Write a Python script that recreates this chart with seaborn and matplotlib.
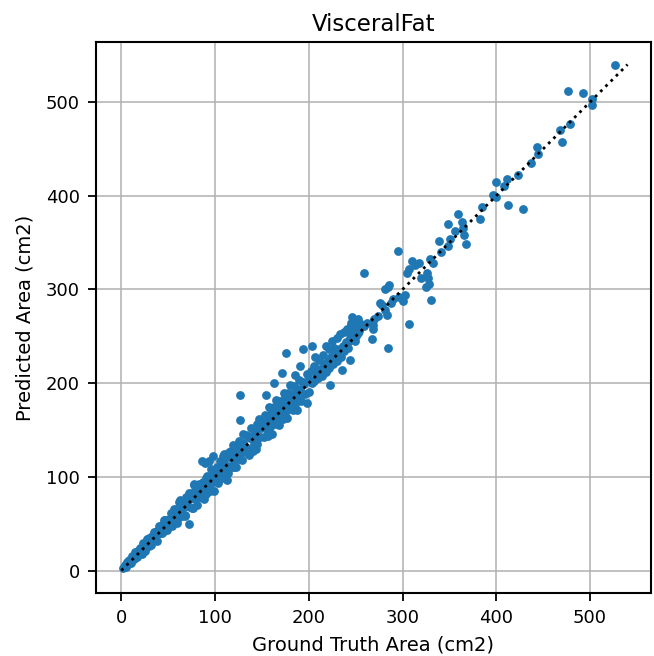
import matplotlib
matplotlib.use("Agg")
import matplotlib.pyplot as plt
import seaborn as sns
import pandas as pd

# Ground truth vs predicted visceral fat area (cm2)
ground_truth = [
    # 0-50
    2, 4, 5, 6, 7, 8, 9, 10, 11, 12, 13, 14, 15, 16, 17, 18, 19, 20, 21, 22,
    22, 23, 24, 25, 26, 27, 28, 29, 30, 31, 32, 33, 34, 35, 36, 37, 38, 39, 40, 41,
    42, 43, 44, 45, 46, 47, 48, 49, 50, 35, 28, 42, 18, 12, 8, 25, 45, 38,
    # 50-100
    51, 52, 53, 54, 55, 56, 57, 58, 59, 60, 61, 62, 63, 64, 65, 66, 67, 68, 69, 70,
    71, 72, 72, 73, 74, 75, 76, 77, 78, 79, 80, 81, 82, 83, 84, 85, 86, 86, 87, 88,
    89, 89, 90, 91, 92, 93, 93, 94, 95, 96, 97, 98, 98, 99, 100,
    55, 60, 65, 70, 75, 80, 85, 90, 95, 62, 68, 78, 88,
    # 100-150
    101, 102, 103, 104, 105, 106, 107, 108, 109, 110, 111, 112, 113, 114, 115, 116,
    117, 118, 119, 120, 121, 122, 123, 124, 125, 126, 127, 127, 128, 129, 130, 131,
    132, 133, 134, 135, 136, 137, 138, 139, 140, 141, 142, 143, 144, 145, 146, 147,
    148, 149, 150, 127, 105, 115, 125, 135, 145, 110, 120, 130, 140,
    # 150-205
    151, 152, 153, 154, 154, 155, 156, 157, 158, 159, 160, 161, 162, 163, 163, 164,
    165, 166, 167, 168, 169, 170, 171, 171, 172, 173, 174, 175, 176, 176, 177, 178,
    179, 180, 181, 182, 183, 184, 185, 185, 186, 187, 188, 189, 190, 191, 191, 192,
    194, 194, 196, 198, 198, 200, 200, 202, 203, 203,
    155, 165, 175, 185, 195, 160, 170, 180,
    # 205-255
    205, 206, 207, 208, 210, 211, 212, 214, 215, 216, 218, 218, 220, 221, 222, 223,
    224, 225, 226, 227, 228, 230, 230, 232, 233, 234, 235, 236, 237, 238, 240, 241,
    242, 244, 244, 245, 246, 246, 248, 249, 250, 250, 252, 253, 254,
    # 255-310
    256, 259, 245, 249, 252, 245, 243, 259, 262, 267, 268, 269, 270, 274, 276, 278,
    281, 283, 284, 281, 286, 285, 288, 290, 296, 295, 300, 303, 307,
    # 305-370
    305, 307, 310, 313, 318, 320, 325, 326, 327, 328, 329, 330, 333, 339, 341, 348,
    348, 351, 356, 359, 363, 364, 366, 368,
    # 380-530
    383, 385, 396, 400, 400, 408, 411, 413, 423, 429, 437, 443, 445, 468, 470, 476,
    479, 492, 502, 502, 527,
]
predicted = [
    # 0-50
    3, 6, 4, 9, 7, 10, 10, 8, 15, 13, 12, 16, 20, 16, 14, 21, 20, 24, 19, 24,
    18, 29, 25, 23, 29, 34, 28, 26, 35, 33, 27, 37, 35, 41, 34, 40, 32, 41, 48, 40,
    46, 40, 50, 46, 42, 54, 50, 43, 53, 36, 33, 40, 21, 14, 11, 21, 54, 42,
    # 50-100
    55, 49, 61, 48, 56, 66, 55, 63, 51, 63, 68, 58, 75, 64, 58, 72, 69, 58, 78, 69,
    76, 50, 83, 68, 77, 83, 67, 78, 91, 76, 86, 70, 84, 92, 78, 89, 117, 84, 94, 76,
    115, 92, 82, 101, 93, 117, 88, 100, 85, 108, 94, 122, 106, 85, 105,
    57, 56, 72, 69, 67, 84, 79, 99, 92, 73, 59, 92, 86,
    # 100-150
    98, 110, 93, 108, 117, 100, 108, 122, 100, 115, 109, 122, 97, 104, 121, 112,
    128, 111, 134, 119, 124, 110, 132, 119, 138, 128, 161, 119, 135, 118, 146, 131,
    126, 145, 131, 143, 123, 141, 152, 130, 142, 151, 135, 148, 130, 156, 144, 162,
    142, 152, 159, 187, 98, 126, 121, 144, 135, 124, 111, 136, 128,
    # 150-205
    157, 143, 166, 187, 152, 165, 144, 160, 174, 153, 168, 146, 163, 200, 174, 156,
    182, 163, 173, 155, 181, 169, 211, 180, 162, 177, 189, 168, 232, 178, 163, 189,
    175, 198, 172, 188, 171, 197, 209, 184, 194, 171, 192, 203, 184, 218, 194, 181,
    236, 201, 188, 179, 210, 204, 190, 213, 240, 200,
    150, 170, 186, 178, 199, 158, 176, 183,
    # 205-255
    202, 218, 228, 210, 205, 225, 215, 208, 230, 220, 240, 212, 224, 236, 216, 198,
    228, 245, 220, 238, 232, 248, 224, 236, 252, 228, 214, 240, 255, 234, 244, 258,
    238, 225, 248, 262, 271, 252, 258, 245, 266, 250, 262, 268, 256,
    # 255-310
    263, 261, 264, 260, 254, 250, 245, 318, 264, 247, 262, 258, 268, 272, 286, 283,
    278, 273, 303, 300, 305, 237, 286, 290, 292, 341, 288, 294, 263,
    # 305-370
    318, 322, 330, 326, 328, 312, 303, 318, 312, 306, 333, 289, 328, 352, 340, 346,
    370, 354, 362, 381, 372, 366, 358, 349,
    # 380-530
    375, 388, 401, 399, 415, 410, 418, 390, 422, 386, 435, 452, 444, 470, 457, 512,
    477, 510, 503, 497, 539,
]
identity = [0, 540]

df = pd.DataFrame({"gt": ground_truth, "pred": predicted})

fig = plt.figure(figsize=(6.54, 6.56), dpi=100)
ax = fig.add_axes([0.1468, 0.096, 0.8486, 0.8399])

sns.scatterplot(data=df, x="gt", y="pred", ax=ax, color="#1f77b4",
                s=40, linewidth=0, zorder=3)
sns.lineplot(x=identity, y=identity, ax=ax, color="black",
             linestyle=":", linewidth=2, zorder=4)

ax.set_xlim(-27, 565)
ax.set_ylim(-24, 564)
ax.set_xticks([0, 100, 200, 300, 400, 500])
ax.set_yticks([0, 100, 200, 300, 400, 500])
ax.grid(True, color="#b0b0b0", linewidth=1.1)
ax.set_axisbelow(True)

ax.set_title("VisceralFat", fontsize=16.5, pad=8)
ax.set_xlabel("Ground Truth Area (cm2)", fontsize=14, labelpad=6)
ax.set_ylabel("Predicted Area (cm2)", fontsize=14, labelpad=8)
ax.tick_params(labelsize=13, length=5.5, width=1.3, pad=6)
for sp in ax.spines.values():
    sp.set_linewidth(1.5)

fig.savefig("out.png", dpi=100)
